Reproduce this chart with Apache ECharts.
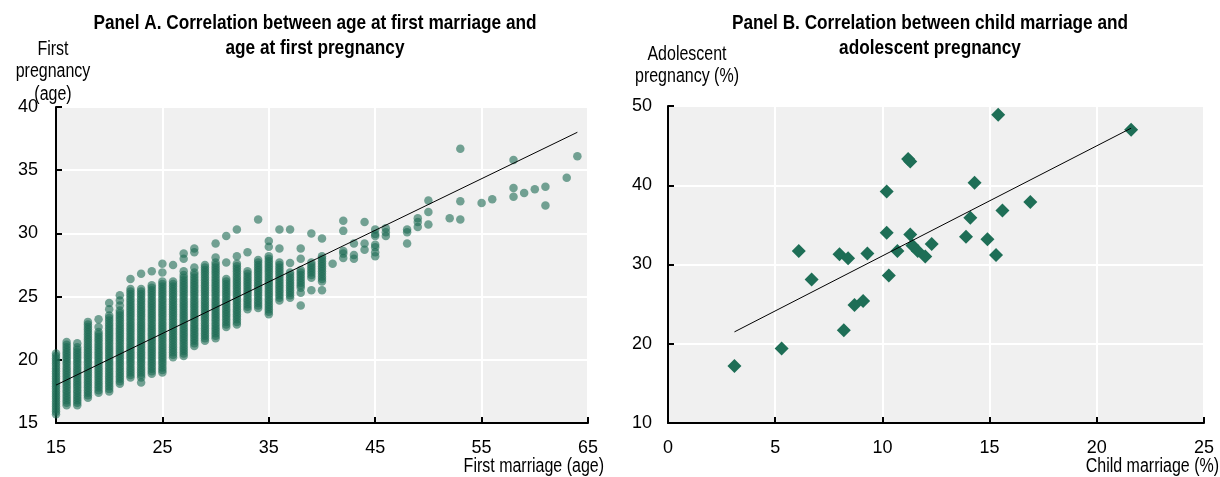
<!DOCTYPE html>
<html>
<head>
<meta charset="utf-8">
<script src="https://cdn.jsdelivr.net/npm/echarts@6/dist/echarts.min.js"></script>
<style>
html,body{margin:0;padding:0;background:#fff;}
#chart{width:1220px;height:477px;}
</style>
</head>
<body>
<div id="chart"></div>
<script>
// ---------- Panel A data: age at first marriage (x) vs age at first pregnancy (y) ----------
const marriageAges = [15,16,17,18,19,20,21,22,23,24,25,26,27,28,29,30,31,32,33,34,35,36,37,38,39,40,41,42,43,44,45,46,48,49,50,52,53,55,56,58,59,60,61,63,64];
const pregnancyAges = [
  [15.7,15.9,16.1,16.3,16.5,16.7,16.9,17.1,17.3,17.5,17.7,17.9,18.1,18.3,18.5,18.7,18.9,19.1,19.3,19.5,19.7,19.9,20.1,20.3,20.5],
  [16.4,16.6,16.8,17.0,17.2,17.4,17.6,17.8,18.0,18.2,18.4,18.6,18.8,19.0,19.2,19.4,19.6,19.8,20.0,20.2,20.4,20.6,20.8,21.0,21.2,21.4],
  [16.4,16.6,16.8,17.0,17.2,17.4,17.6,17.8,18.0,18.2,18.4,18.6,18.8,19.0,19.2,19.4,19.6,19.8,20.0,20.2,20.4,20.6,20.8,21.0,21.3],
  [17.0,17.2,17.4,17.6,17.8,18.0,18.2,18.4,18.6,18.8,19.0,19.2,19.4,19.6,19.8,20.0,20.2,20.4,20.6,20.8,21.0,21.2,21.4,21.6,21.8,22.0,22.2,22.4,22.6,22.8,23.0],
  [17.4,17.6,17.8,18.0,18.2,18.4,18.6,18.8,19.0,19.2,19.4,19.6,19.8,20.0,20.2,20.4,20.6,20.8,21.0,21.2,21.4,21.6,21.8,22.0,22.2,22.6,23.2],
  [17.5,17.7,17.9,18.1,18.3,18.5,18.7,18.9,19.1,19.3,19.5,19.7,19.9,20.1,20.3,20.5,20.7,20.9,21.1,21.3,21.5,21.7,21.9,22.1,22.3,22.5,22.7,22.9,23.1,23.3,23.5,24.0,24.5],
  [18.1,18.3,18.5,18.7,18.9,19.1,19.3,19.5,19.7,19.9,20.1,20.3,20.5,20.7,20.9,21.1,21.3,21.5,21.7,21.9,22.1,22.3,22.5,22.7,22.9,23.1,23.3,23.5,23.7,23.9,24.3,24.7,25.1],
  [18.6,18.8,19.0,19.2,19.4,19.6,19.8,20.0,20.2,20.4,20.6,20.8,21.0,21.2,21.4,21.6,21.8,22.0,22.2,22.4,22.6,22.8,23.0,23.2,23.4,23.6,23.8,24.0,24.2,24.4,24.6,24.8,25.0,25.2,25.4,25.6,26.4],
  [18.2,18.6,18.8,19.0,19.2,19.4,19.6,19.8,20.0,20.2,20.4,20.6,20.8,21.0,21.2,21.4,21.6,21.8,22.0,22.2,22.4,22.6,22.8,23.0,23.2,23.4,23.6,23.8,24.0,24.2,24.4,24.6,24.8,25.0,25.2,25.4,25.6,26.8],
  [18.9,19.1,19.3,19.5,19.7,19.9,20.1,20.3,20.5,20.7,20.9,21.1,21.3,21.5,21.7,21.9,22.1,22.3,22.5,22.7,22.9,23.1,23.3,23.5,23.7,23.9,24.1,24.3,24.5,24.7,24.9,25.1,25.3,25.5,25.7,25.9,27.0],
  [19.0,19.2,19.4,19.6,19.8,20.0,20.2,20.4,20.6,20.8,21.0,21.2,21.4,21.6,21.8,22.0,22.2,22.4,22.6,22.8,23.0,23.2,23.4,23.6,23.8,24.0,24.2,24.4,24.6,24.8,25.0,25.2,25.4,25.6,25.8,26.0,26.2,26.9,27.6],
  [20.2,20.4,20.6,20.8,21.0,21.2,21.4,21.6,21.8,22.0,22.2,22.4,22.6,22.8,23.0,23.2,23.4,23.6,23.8,24.0,24.2,24.4,24.6,24.8,25.0,25.2,25.4,25.6,25.8,26.0,26.2,27.5],
  [20.3,20.5,20.7,20.9,21.1,21.3,21.5,21.7,21.9,22.1,22.3,22.5,22.7,22.9,23.1,23.3,23.5,23.7,23.9,24.1,24.3,24.5,24.7,24.9,25.1,25.3,25.5,25.7,25.9,26.1,26.3,26.5,26.7,27.0,28.0,28.4],
  [21.1,21.3,21.5,21.7,21.9,22.1,22.3,22.5,22.7,22.9,23.1,23.3,23.5,23.7,23.9,24.1,24.3,24.5,24.7,24.9,25.1,25.3,25.5,25.7,25.9,26.1,26.3,26.5,26.7,26.9,27.3,28.5,28.8],
  [21.5,21.7,21.9,22.1,22.3,22.5,22.7,22.9,23.1,23.3,23.5,23.7,23.9,24.1,24.3,24.5,24.7,24.9,25.1,25.3,25.5,25.7,25.9,26.1,26.3,26.5,26.7,26.9,27.1,27.3,27.5],
  [21.7,21.9,22.1,22.3,22.5,22.7,22.9,23.1,23.3,23.5,23.7,23.9,24.1,24.3,24.5,24.7,24.9,25.1,25.3,25.5,25.7,25.9,26.1,26.3,26.5,26.7,26.9,27.1,27.3,27.5,27.7,28.1,29.2],
  [22.6,22.8,23.0,23.2,23.4,23.6,23.8,24.0,24.2,24.4,24.6,24.8,25.0,25.2,25.4,25.6,25.8,26.0,26.2,26.4,27.7,29.8],
  [22.8,23.0,23.2,23.4,23.6,23.8,24.0,24.2,24.4,24.6,24.8,25.0,25.2,25.4,25.6,25.8,26.0,26.2,26.4,26.6,26.8,27.0,27.2,27.4,27.6,28.2,30.3],
  [24.0,24.2,24.4,24.6,24.8,25.0,25.2,25.4,25.6,25.8,26.0,26.2,26.4,26.6,26.8,27.0,28.5],
  [24.1,24.3,24.5,24.7,24.9,25.1,25.3,25.5,25.7,25.9,26.1,26.3,26.5,26.7,26.9,27.1,27.3,27.5,27.7,27.9,31.1],
  [23.6,23.8,24.0,24.2,24.4,24.6,24.8,25.0,25.2,25.4,25.6,25.8,26.0,26.2,26.4,26.6,26.8,27.0,27.2,27.4,27.6,27.8,28.0,28.2,28.95,29.4],
  [24.7,24.9,25.1,25.3,25.5,25.7,25.9,26.1,26.3,26.5,26.7,26.9,27.1,27.3,27.5,27.7,28.8,30.3],
  [24.9,25.1,25.3,25.5,25.7,25.9,26.1,26.3,26.5,26.7,26.9,27.65,30.3],
  [24.3,25.3,25.7,25.9,26.1,26.3,26.5,26.7,26.9,27.1,28.0,28.8],
  [25.5,26.5,26.7,26.9,27.1,27.3,27.5,27.7,30.0],
  [25.5,26.2,26.4,26.6,26.8,27.0,27.2,27.4,27.6,27.8,28.0,28.2,29.6],
  [27.6],
  [28.05,28.4,28.6,30.2,31.0],
  [28.0,28.3,29.2],
  [28.7,29.2,30.9],
  [28.2,28.5,28.9,29.1,29.8,29.95,30.3],
  [29.8,30.1,30.4],
  [29.2,30.1,30.3],
  [30.5,30.9,31.2],
  [30.7,31.7,32.6],
  [31.2],
  [31.1,32.55,36.7],
  [32.4],
  [32.7],
  [32.9,33.6,35.8],
  [33.2],
  [33.5],
  [32.2,33.7],
  [34.4],
  [36.1]
];
const trendA = [[15, 18.0], [64, 38.0]];
const ticksA_x = [15, 25, 35, 45, 55, 65];
const ticksA_y = [15, 20, 25, 30, 35, 40];

// ---------- Panel B data: child marriage (%) vs adolescent pregnancy (%) ----------
const childMarriage = [3.1, 5.3, 6.1, 6.7, 8.0, 8.2, 8.4, 8.7, 9.1, 9.3, 10.2, 10.2, 10.3, 10.7, 11.2, 11.3, 11.3, 11.4, 11.65, 12.0, 12.3, 13.9, 14.1, 14.3, 14.9, 15.3, 15.4, 15.6, 16.9, 21.6];
const adolescentPregnancy = [17.2, 19.4, 31.7, 28.1, 31.3, 21.7, 30.8, 24.9, 25.4, 31.4, 39.2, 34.0, 28.6, 31.7, 43.3, 43.0, 33.8, 32.4, 31.7, 31.0, 32.6, 33.5, 35.9, 40.3, 33.2, 31.2, 48.9, 36.8, 37.9, 47.0];
const trendB = [[3.1, 21.5], [21.6, 47.2]];
const ticksB_x = [0, 5, 10, 15, 20, 25];
const ticksB_y = [10, 20, 30, 40, 50];

// ---------- build ----------
const pointsA = [];
marriageAges.forEach((x, i) => pregnancyAges[i].forEach(y => pointsA.push([x, y])));
const pointsB = childMarriage.map((x, i) => [x, adolescentPregnancy[i]]);

const FONT = '"Liberation Sans", Arial, sans-serif';
const NARROW = 0.82; // Arial Narrow look

function axisCommon(ticks, margin) {
  return {
    type: 'value', min: ticks[0], max: ticks[ticks.length - 1], interval: ticks[1] - ticks[0],
    axisLine: {show: true, onZero: false, lineStyle: {color: '#000', width: 2}},
    axisTick: {show: true, inside: true, length: 6, lineStyle: {color: '#000', width: 2}},
    axisLabel: {color: '#000', fontFamily: FONT, fontSize: 18, margin},
    splitLine: {show: true, lineStyle: {color: '#fff', width: 2}}
  };
}
function label(text, x, y, opts) {
  return {type: 'text', x, y, scaleX: NARROW, scaleY: 1, silent: true,
    style: Object.assign({text, align: 'center', verticalAlign: 'middle', fontFamily: FONT,
      fontSize: 19.5, fill: '#000'}, opts || {})};
}

const chart = echarts.init(document.getElementById('chart'), null, {renderer: 'canvas'});
chart.setOption({
  animation: false,
  backgroundColor: '#fff',
  grid: [
    {left: 56, right: 632, top: 107, bottom: 54, show: true, backgroundColor: '#f0f0f0', borderWidth: 0},
    {left: 668, right: 16, top: 106, bottom: 54, show: true, backgroundColor: '#f0f0f0', borderWidth: 0}
  ],
  xAxis: [
    Object.assign(axisCommon(ticksA_x, 16), {gridIndex: 0}),
    Object.assign(axisCommon(ticksB_x, 16), {gridIndex: 1})
  ],
  yAxis: [
    Object.assign(axisCommon(ticksA_y, 18), {gridIndex: 0}),
    Object.assign(axisCommon(ticksB_y, 16), {gridIndex: 1})
  ],
  series: [
    {type: 'scatter', xAxisIndex: 0, yAxisIndex: 0, data: pointsA, symbol: 'circle', symbolSize: 8.5,
     itemStyle: {color: '#1d6b53', opacity: 0.6}, silent: true, z: 2},
    {type: 'line', xAxisIndex: 0, yAxisIndex: 0, data: trendA, symbol: 'none',
     lineStyle: {color: '#000', width: 1}, silent: true, z: 3},
    {type: 'scatter', xAxisIndex: 1, yAxisIndex: 1, data: pointsB, symbol: 'diamond', symbolSize: 14,
     itemStyle: {color: '#1e6e56', opacity: 1}, silent: true, z: 2},
    {type: 'line', xAxisIndex: 1, yAxisIndex: 1, data: trendB, symbol: 'none',
     lineStyle: {color: '#000', width: 1}, silent: true, z: 3}
  ],
  graphic: [
    label('Panel A. Correlation between age at first marriage and\nage at first pregnancy', 315, 36,
      {fontWeight: 'bold', fontSize: 21, lineHeight: 25}),
    label('Panel B. Correlation between child marriage and\nadolescent pregnancy', 930, 36,
      {fontWeight: 'bold', fontSize: 21, lineHeight: 25}),
    label('First\npregnancy\n(age)', 53, 72, {lineHeight: 22.5}),
    label('Adolescent\npregnancy (%)', 687, 66, {lineHeight: 22}),
    label('First marriage (age)', 604, 467, {align: 'right'}),
    label('Child marriage (%)', 1219, 467, {align: 'right'})
  ]
});
</script>
</body>
</html>
